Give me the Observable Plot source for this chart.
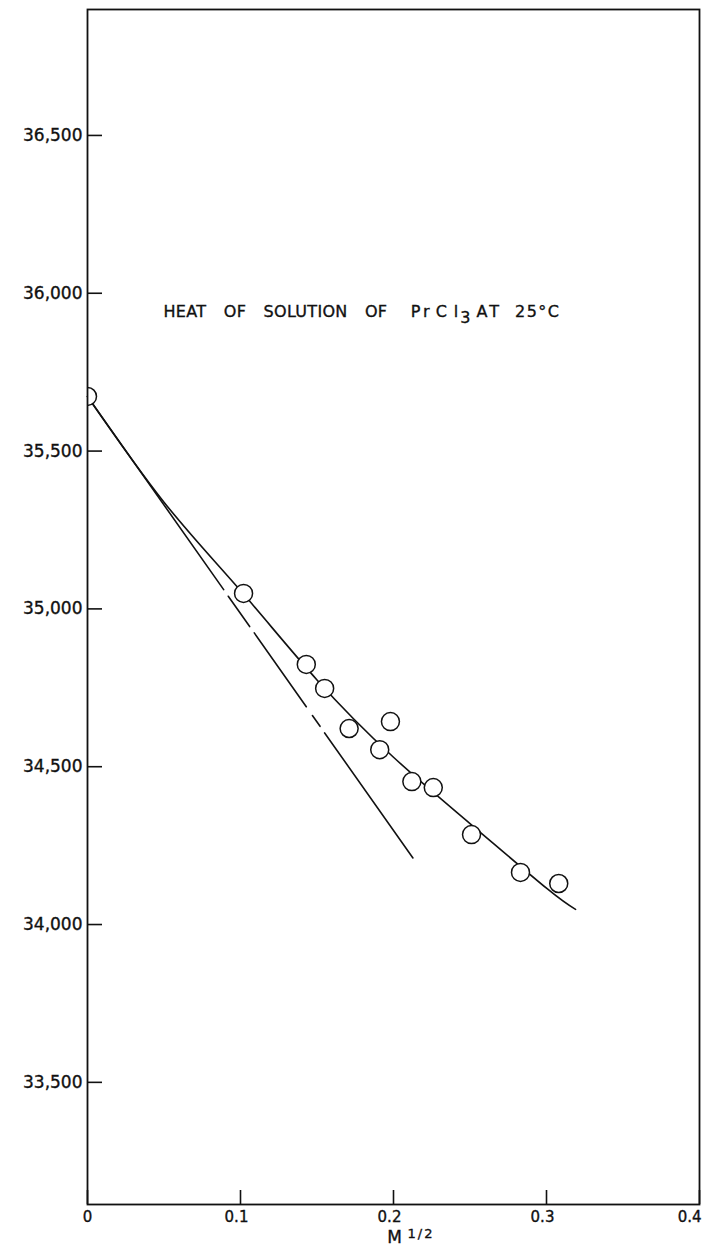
<!DOCTYPE html>
<html>
<head>
<meta charset="utf-8">
<script src="https://cdn.jsdelivr.net/npm/d3@7"></script>
<script src="https://cdn.jsdelivr.net/npm/@observablehq/plot@0.6"></script>
<style>
  html, body { margin: 0; padding: 0; background: #fff; }
  svg { display: block; }
  svg text { stroke: #111; stroke-width: 0.35px; }
</style>
</head>
<body>
<div id="chart"></div>
<script>
// Measured points: heat of solution (cal/mole) vs M^1/2
const sqrtM = [0, 0.102, 0.143, 0.155, 0.171, 0.198, 0.191, 0.212, 0.226, 0.251, 0.283, 0.308];
const heat  = [35673, 35049, 34824, 34748, 34621, 34643, 34554, 34453, 34434, 34285, 34165, 34130];

// Smooth fitted curve
const curveX = [0, 0.05, 0.1, 0.15, 0.2, 0.25, 0.3, 0.319];
const curveY = [35673, 35338, 35058, 34775, 34530, 34320, 34115, 34048];

// Limiting-slope (tangent) line, drawn in broken pieces
const tangentX   = [0, 0.089, 0.092, 0.106, 0.109, 0.143, 0.147, 0.152, 0.155, 0.2127];
const tangentY   = [35673, 35061, 35040, 34944, 34924, 34690, 34662, 34628, 34607, 34211];
const tangentSeg = [0, 0, 1, 1, 2, 2, 3, 3, 4, 4];

// Axes
const xTicks = [0, 0.1, 0.2, 0.3, 0.4];
const xTickLabels = ["0", "0.1", "0.2", "0.3", "0.4"];
const yTicks = [33500, 34000, 34500, 35000, 35500, 36000, 36500];
const xDomain = [0, 0.4];
const yDomain = [33113, 36899];

const title = "HEAT OF SOLUTION OF PrCl3 AT 25°C";
const xLabelMain = "M";
const xLabelSup = "1/2";

const points = sqrtM.map((x, i) => ({x, y: heat[i]}));
const curvePts = curveX.map((x, i) => ({x, y: curveY[i]}));
const tangentPts = tangentX.map((x, i) => ({x, y: tangentY[i], s: tangentSeg[i]}));
const xLabelMap = new Map(xTicks.map((t, i) => [t, xTickLabels[i]]));

const ink = "#111";

const plot = Plot.plot({
  width: 702,
  height: 1255,
  marginLeft: 87,
  marginRight: 3,
  marginTop: 9,
  marginBottom: 51,
  style: {fontFamily: "'DejaVu Sans', sans-serif", color: ink, background: "#fff"},
  x: {domain: xDomain},
  y: {domain: yDomain},
  marks: [
    Plot.axisY(yTicks, {tickSize: -15, tickPadding: 20, tickFormat: d3.format(","), fontSize: 17, strokeWidth: 1.6, label: null}),
    Plot.axisX(xTicks, {tickSize: -14, tickPadding: 21, tickFormat: d => xLabelMap.get(d), fontSize: 15, strokeWidth: 1.6, label: null}),
    Plot.line(curvePts, {x: "x", y: "y", curve: "natural", stroke: ink, strokeWidth: 1.6}),
    Plot.line(tangentPts, {x: "x", y: "y", z: "s", stroke: ink, strokeWidth: 1.6}),
    Plot.dot(points, {x: "x", y: "y", r: 9, fill: "white", stroke: ink, strokeWidth: 1.5}),
    Plot.frame({stroke: ink, strokeWidth: 1.8}),
    Plot.text([title], {x: 0.0497, y: 35942, text: d => d, textAnchor: "start", fontSize: 16, fill: ink}),
    Plot.text([xLabelMain], {frameAnchor: "bottom", text: d => d, dx: 1, dy: 38, fontSize: 17, fill: ink}),
    Plot.text([xLabelSup], {frameAnchor: "bottom", text: d => d, dx: 14, dy: 33, fontSize: 13, textAnchor: "start", fill: ink})
  ]
});

const svg = d3.select(plot);

// Clip the circles to the plotting frame (the first point sits on the y axis and shows only its right half)
const xr = plot.scale("x").range, yr = plot.scale("y").range;
const clipId = "frame-clip";
svg.insert("defs", ":first-child").append("clipPath").attr("id", clipId).append("rect")
  .attr("x", Math.min(...xr)).attr("y", Math.min(...yr))
  .attr("width", Math.abs(xr[1] - xr[0])).attr("height", Math.abs(yr[1] - yr[0]));
svg.selectAll("g[aria-label='dot']").attr("clip-path", `url(#${clipId})`);

// Typeset the title with a subscript and the wide spacing of the original lettering
svg.selectAll("text").filter(function() { return this.textContent === title; }).each(function() {
  const t = d3.select(this);
  t.text(null);
  t.append("tspan").style("word-spacing", "12px").style("letter-spacing", "0.3px").text("HEAT OF SOLUTION OF ");
  t.append("tspan").attr("dx", 6).text("P");
  t.append("tspan").attr("dx", 3).text("r");
  t.append("tspan").attr("dx", 6).text("C");
  t.append("tspan").attr("dx", 7).text("l");
  t.append("tspan").attr("dy", "0.4em").attr("dx", 2).text("3");
  t.append("tspan").attr("dy", "-0.4em").attr("dx", 6).text("A");
  t.append("tspan").attr("dx", 3).text("T");
  t.append("tspan").attr("dx", 16).style("letter-spacing", "1.5px").text("25°C");
});

// The superscript 1/2 is spaced out as in the lettering
svg.selectAll("text").filter(function() { return this.textContent === xLabelSup; }).style("letter-spacing", "2px");

// x tick labels sit a little left of their ticks; the last one is kept inside the page
svg.selectAll("g[aria-label='x-axis tick label'] text").filter(function() { return this.textContent !== "0"; }).attr("dx", -4);
svg.selectAll("g[aria-label='x-axis tick label'] text").filter(function() { return this.textContent === "0.4"; })
  .attr("text-anchor", "end").attr("dx", 2);

document.getElementById("chart").appendChild(plot);
</script>
</body>
</html>
